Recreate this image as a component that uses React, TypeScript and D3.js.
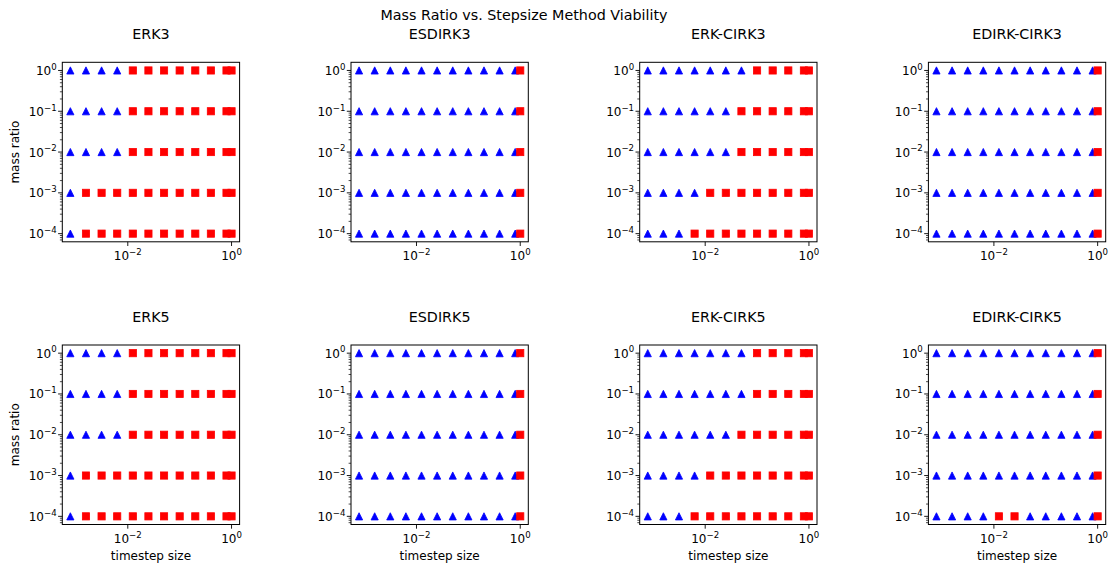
import React from "react";
import * as d3 from "d3";

// Step sizes tested (x) and mass ratios tested (y)
const timesteps = [0.00078125, 0.0015625, 0.003125, 0.00625, 0.0125, 0.025, 0.05, 0.1, 0.2, 0.4, 0.8, 1.0];
const massRatios = [1, 0.1, 0.01, 0.001, 0.0001];

const xTicks = [0.01, 1];

const methods = ["ERK3", "ESDIRK3", "ERK-CIRK3", "EDIRK-CIRK3", "ERK5", "ESDIRK5", "ERK-CIRK5", "EDIRK-CIRK5"];

// 1 = viable (blue triangle), 0 = not viable (red square).
// Rows follow massRatios, columns follow timesteps.
const erk3Viable = [
  [1, 1, 1, 1, 0, 0, 0, 0, 0, 0, 0, 0],
  [1, 1, 1, 1, 0, 0, 0, 0, 0, 0, 0, 0],
  [1, 1, 1, 1, 0, 0, 0, 0, 0, 0, 0, 0],
  [1, 0, 0, 0, 0, 0, 0, 0, 0, 0, 0, 0],
  [1, 0, 0, 0, 0, 0, 0, 0, 0, 0, 0, 0],
];
const esdirk3Viable = [
  [1, 1, 1, 1, 1, 1, 1, 1, 1, 1, 1, 0],
  [1, 1, 1, 1, 1, 1, 1, 1, 1, 1, 1, 0],
  [1, 1, 1, 1, 1, 1, 1, 1, 1, 1, 1, 0],
  [1, 1, 1, 1, 1, 1, 1, 1, 1, 1, 1, 0],
  [1, 1, 1, 1, 1, 1, 1, 1, 1, 1, 1, 0],
];
const erkCirk3Viable = [
  [1, 1, 1, 1, 1, 1, 1, 0, 0, 0, 0, 0],
  [1, 1, 1, 1, 1, 1, 0, 0, 0, 0, 0, 0],
  [1, 1, 1, 1, 1, 1, 0, 0, 0, 0, 0, 0],
  [1, 1, 1, 1, 0, 0, 0, 0, 0, 0, 0, 0],
  [1, 1, 1, 0, 0, 0, 0, 0, 0, 0, 0, 0],
];
const edirkCirk3Viable = [
  [1, 1, 1, 1, 1, 1, 1, 1, 1, 1, 1, 0],
  [1, 1, 1, 1, 1, 1, 1, 1, 1, 1, 1, 0],
  [1, 1, 1, 1, 1, 1, 1, 1, 1, 1, 1, 0],
  [1, 1, 1, 1, 1, 1, 1, 1, 1, 1, 1, 0],
  [1, 1, 1, 1, 1, 1, 1, 1, 1, 1, 1, 0],
];
const erk5Viable = [
  [1, 1, 1, 1, 0, 0, 0, 0, 0, 0, 0, 0],
  [1, 1, 1, 1, 0, 0, 0, 0, 0, 0, 0, 0],
  [1, 1, 1, 1, 0, 0, 0, 0, 0, 0, 0, 0],
  [1, 0, 0, 0, 0, 0, 0, 0, 0, 0, 0, 0],
  [1, 0, 0, 0, 0, 0, 0, 0, 0, 0, 0, 0],
];
const esdirk5Viable = [
  [1, 1, 1, 1, 1, 1, 1, 1, 1, 1, 1, 0],
  [1, 1, 1, 1, 1, 1, 1, 1, 1, 1, 1, 0],
  [1, 1, 1, 1, 1, 1, 1, 1, 1, 1, 1, 0],
  [1, 1, 1, 1, 1, 1, 1, 1, 1, 1, 1, 0],
  [1, 1, 1, 1, 1, 1, 1, 1, 1, 1, 1, 0],
];
const erkCirk5Viable = [
  [1, 1, 1, 1, 1, 1, 1, 0, 0, 0, 0, 0],
  [1, 1, 1, 1, 1, 1, 1, 0, 0, 0, 0, 0],
  [1, 1, 1, 1, 1, 1, 0, 0, 0, 0, 0, 0],
  [1, 1, 1, 1, 0, 0, 0, 0, 0, 0, 0, 0],
  [1, 1, 1, 0, 0, 0, 0, 0, 0, 0, 0, 0],
];
const edirkCirk5Viable = [
  [1, 1, 1, 1, 1, 1, 1, 1, 1, 1, 1, 0],
  [1, 1, 1, 1, 1, 1, 1, 1, 1, 1, 1, 0],
  [1, 1, 1, 1, 1, 1, 1, 1, 1, 1, 1, 0],
  [1, 1, 1, 1, 1, 1, 1, 1, 1, 1, 1, 0],
  [1, 1, 1, 1, 0, 0, 1, 1, 1, 1, 1, 0],
];

const viability = [
  erk3Viable, esdirk3Viable, erkCirk3Viable, edirkCirk3Viable,
  erk5Viable, esdirk5Viable, erkCirk5Viable, edirkCirk5Viable,
];

const W = 1112;
const H = 565;
const FONT = "DejaVu Sans, Liberation Sans, sans-serif";

// Panel grid geometry
const colLeft0 = 62.3;
const colStep = 288.7;
const panelW = 177.3;
const rowTops = [62.3, 345];
const panelH = 179.5;

const MS = 7.2; // marker size in px
const BLUE = "#0000ff";
const RED = "#ff0000";

function logPad(lo: number, hi: number, frac: number): [number, number] {
  const a = Math.log10(lo);
  const b = Math.log10(hi);
  const p = (b - a) * frac;
  return [Math.pow(10, a - p), Math.pow(10, b + p)];
}

function expLabel(v: number) {
  const e = Math.round(Math.log10(v));
  return e < 0 ? "\u2212" + String(-e) : String(e);
}

function PowText(props: { x: number; y: number; v: number; anchor: "end" | "middle" }) {
  return (
    <text x={props.x} y={props.y} textAnchor={props.anchor} fontSize={12} fill="#000">
      10
      <tspan dy={-5.2} fontSize={8.6}>
        {expLabel(props.v)}
      </tspan>
    </text>
  );
}

function Panel(props: { idx: number }) {
  const { idx } = props;
  const col = idx % 4;
  const row = Math.floor(idx / 4);
  const left = colLeft0 + col * colStep;
  const top = rowTops[row];
  const right = left + panelW;
  const bottom = top + panelH;

  const xExt = d3.extent(timesteps) as [number, number];
  const yExt = d3.extent(massRatios) as [number, number];
  const x = d3.scaleLog().domain(logPad(xExt[0], xExt[1], 0.05)).range([left, right]);
  const y = d3.scaleLog().domain(logPad(yExt[0], yExt[1], 0.05)).range([bottom, top]);

  const [yLo, yHi] = y.domain();
  const minor: number[] = [];
  for (let k = -6; k <= 1; k++) {
    for (let m = 2; m <= 9; m++) {
      const v = m * Math.pow(10, k);
      if (v >= yLo && v <= yHi) minor.push(v);
    }
  }

  const grid = viability[idx];
  const tri: { cx: number; cy: number }[] = [];
  const sq: { cx: number; cy: number }[] = [];
  massRatios.forEach((mr, r) => {
    timesteps.forEach((dt, c) => {
      const pt = { cx: x(dt), cy: y(mr) };
      if (grid[r][c]) tri.push(pt);
      else sq.push(pt);
    });
  });

  const h = MS / 2;
  return (
    <g>
      <text x={(left + right) / 2} y={top - 23} textAnchor="middle" fontSize={14.3} fill="#000">
        {methods[idx]}
      </text>
      {tri.map((p, i) => (
        <path
          key={"t" + i}
          d={`M${p.cx},${p.cy - h}L${p.cx - h},${p.cy + h}L${p.cx + h},${p.cy + h}Z`}
          fill={BLUE}
          stroke={BLUE}
          strokeWidth={0.8}
          strokeLinejoin="miter"
        />
      ))}
      {sq.map((p, i) => (
        <rect key={"s" + i} x={p.cx - h} y={p.cy - h} width={MS} height={MS} fill={RED} stroke={RED} strokeWidth={0.8} />
      ))}
      <rect x={left} y={top} width={panelW} height={panelH} fill="none" stroke="#000" strokeWidth={1} />
      {minor.map((v, i) => (
        <line key={"m" + i} x1={left - 2.4} x2={left} y1={y(v)} y2={y(v)} stroke="#000" strokeWidth={0.7} />
      ))}
      {massRatios.map((v, i) => (
        <g key={"y" + i}>
          <line x1={left - 4.2} x2={left} y1={y(v)} y2={y(v)} stroke="#000" strokeWidth={0.9} />
          <PowText x={left - 5.6} y={y(v) + 4.5} v={v} anchor="end" />
        </g>
      ))}
      {xTicks.map((v, i) => (
        <g key={"x" + i}>
          <line x1={x(v)} x2={x(v)} y1={bottom} y2={bottom + 4.2} stroke="#000" strokeWidth={0.9} />
          <PowText x={x(v)} y={bottom + 18.2} v={v} anchor="middle" />
        </g>
      ))}
      {col === 0 && (
        <text
          transform={`translate(19,${(top + bottom) / 2}) rotate(-90)`}
          textAnchor="middle"
          fontSize={12}
          fill="#000"
        >
          mass ratio
        </text>
      )}
      {row === 1 && (
        <text x={(left + right) / 2} y={559.5} textAnchor="middle" fontSize={12} fill="#000">
          timestep size
        </text>
      )}
    </g>
  );
}

export default function App() {
  return (
    <svg
      width={W}
      height={H}
      viewBox={`0 0 ${W} ${H}`}
      style={{ position: "absolute", left: 0, top: 0, background: "#fff" }}
      fontFamily={FONT}
    >
      <rect width={W} height={H} fill="#fff" />
      <text x={524} y={19.5} textAnchor="middle" fontSize={14.3} fill="#000">
        Mass Ratio vs. Stepsize Method Viability
      </text>
      {methods.map((m, i) => (
        <Panel key={m} idx={i} />
      ))}
    </svg>
  );
}
